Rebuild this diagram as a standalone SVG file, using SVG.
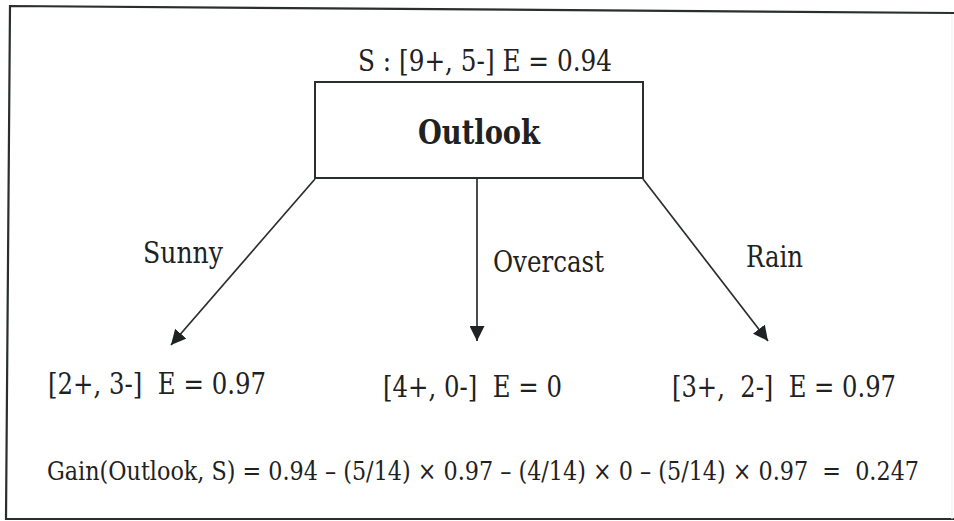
<svg xmlns="http://www.w3.org/2000/svg" width="954" height="521" viewBox="0 0 954 521">
<style>
  text { font-family: 'DejaVu Serif', 'Liberation Serif', serif; fill: #1e2222; white-space: pre; }
  .lbl { font-size: 30px; }
  .frame { fill: none; stroke: #2a2e2e; stroke-width: 2.2; }
  .edge { fill: none; stroke: #2a2e2e; stroke-width: 1.7; marker-end: url(#arr); }
</style>
<defs>
  <marker id="arr" viewBox="0 0 10 10" refX="10" refY="5" markerWidth="15" markerHeight="15" markerUnits="userSpaceOnUse" orient="auto">
    <path d="M0,0 L10,5 L0,10 z" fill="#1e2222"/>
  </marker>
</defs>
<rect width="954" height="521" fill="#ffffff"/>
<g id="frame">
  <polyline class="frame" points="954,13 10,6 6,519 954,519"/>
  <line x1="952" y1="14" x2="952" y2="519" stroke="#f0f1f1" stroke-width="1.2"/>
</g>
<g id="root">
  <text class="lbl" x="485" y="71" text-anchor="middle" textLength="254" lengthAdjust="spacingAndGlyphs">S : [9+, 5-] E = 0.94</text>
  <rect x="315" y="82" width="328" height="96" fill="#ffffff" stroke="#2a2e2e" stroke-width="2"/>
  <text x="479" y="144" text-anchor="middle" font-size="33" font-weight="bold" textLength="122" lengthAdjust="spacingAndGlyphs">Outlook</text>
</g>
<g id="connectors">
  <line class="edge" x1="315" y1="179" x2="171" y2="345"/>
  <line class="edge" x1="477" y1="179" x2="477" y2="341"/>
  <line class="edge" x1="643" y1="179" x2="768" y2="341"/>
  <text class="lbl" x="143" y="263" textLength="80" lengthAdjust="spacingAndGlyphs">Sunny</text>
  <text class="lbl" x="493" y="272" textLength="111" lengthAdjust="spacingAndGlyphs">Overcast</text>
  <text class="lbl" x="746" y="267" textLength="57" lengthAdjust="spacingAndGlyphs">Rain</text>
</g>
<g id="sunny">
  <text class="lbl" x="48" y="394" textLength="218" lengthAdjust="spacingAndGlyphs">[2+, 3-]  E = 0.97</text>
</g>
<g id="overcast">
  <text class="lbl" x="383" y="397" textLength="179" lengthAdjust="spacingAndGlyphs">[4+, 0-]  E = 0</text>
</g>
<g id="rain">
  <text class="lbl" x="672" y="397" textLength="224" lengthAdjust="spacingAndGlyphs">[3+,  2-]  E = 0.97</text>
</g>
<g id="gain">
  <text x="47" y="480" font-size="26" textLength="872" lengthAdjust="spacingAndGlyphs">Gain(Outlook, S) = 0.94 – (5/14) × 0.97 – (4/14) × 0 – (5/14) × 0.97  =  0.247</text>
</g>
</svg>
